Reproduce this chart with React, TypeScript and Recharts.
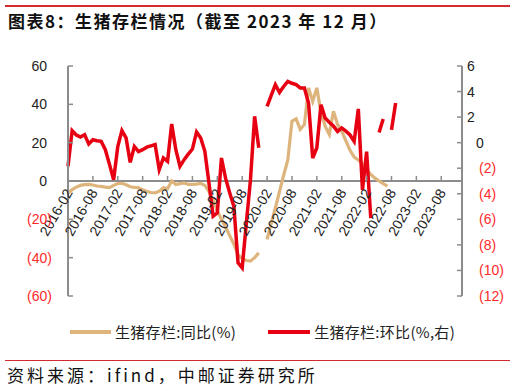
import { LineChart, Line, XAxis, YAxis, ReferenceLine } from "recharts";

// months 2016-02 .. 2024-01
const months: string[] = [];
for (let i = 0; i < 96; i++) {
  const total = 2016 * 12 + 1 + i;
  const y = Math.floor(total / 12);
  const m = (total % 12) + 1;
  months.push(`${y}-${String(m).padStart(2, "0")}`);
}

// 生猪存栏:同比 (%), left axis
const yoy: (number | null)[] = [
  -6.2, -4.5, -3.2, -2.3, -1.9, -1.8, -2.1, -2.6, -2.8, -3.2, -3.5, -2.3,
  -1.3, -1.2, -2.0, -3.0, -3.3, -3.5, -4.6, -5.5, -6.0, -6.2, -5.3, -3.5,
  -4.0, 0, -1.8, -1.4, -1.0, -1.8, -1.8, -1.6, -1.3, -2.3, -5.5, -10,
  -15.5, -20, -24, -28.5, -33, -38.5, -40.5, -41.5, -41.8, -40, -37.5, null,
  -30.5, -22, -14, -5.5, 3, 11, 31.2, 32.4, 26.9, 29.5, 48.6, 41.6,
  48.6, 35.6, 28.6, 24.3, 36.4, 29.5, 26, 21, 16, 12.5, 11, 9,
  6, 3.4, 1.5, 0, -1.4, -2.7, null, null, null, null, null, null,
  null, null, null, null, null, null, null, null, null, null, null, null,
];

// 生猪存栏:环比 (%), right axis
const mom: (number | null)[] = [
  -1.85, 0.94, 0.6, 0.45, 0.63, -0.1, 0.23, 0.15, 0.1, -0.55, -1.7, -2.9,
  -0.3, 0.94, 0.37, -1.54, -0.3, -0.7, -0.55, -0.35, -0.25, -0.15, -2.1, -1.2,
  -1.46, 1.46, -0.55, -1.85, -1.33, -0.9, -0.5, 0.84, 0.37, -0.68, -3.2, -5.76,
  -5.5, -1.2, -2.8, -3.94, -5, -9.4, -9.8, -6.3, -2.9, 2.06, -0.4, null,
  2.84, 3.7, 4.54, 3.94, 4.4, 4.8, 4.65, 4.54, 4.28, 4.28, 3.1, -1.2,
  -0.4, 2.97, 1.93, 1.6, 1.3, 0.88, 1.15, 0.9, 0.6, 0.1, 2.64, -3.7,
  -0.7, -5.9, null, 0.8, 1.85, null, 1.0, 3.1, null, null, null, null,
  null, null, null, null, null, null, null, null, null, null, null, null,
];

const leftTicks = [60, 40, 20, 0, -20, -40, -60];
const rightTicks = [6, 4, 2, 0, -2, -4, -6, -8, -10, -12];

const data = months.map((month, i) => ({ month, yoy: yoy[i], mom: mom[i] }));

const RED = "#E60012";
const TAN = "#DDB47C";
const AXIS = "#8C8C8C";
const NEG = "#FF2A2A";
const TXT = "#222";
const RULE = "#D42A2F";

const PLOT_TOP = 66;
const PLOT_H = 230;
const ZERO_Y = PLOT_TOP + PLOT_H / 2;
const FONT = "'Liberation Sans', Arial, sans-serif";
const CJK = "'Noto Sans CJK SC', sans-serif";

const fmt = (v: number) => (v < 0 ? `(${-v})` : `${v}`);

const LeftTick = ({ x, y, payload }: any) => {
  const v = payload.value as number;
  return (
    <g>
      <line x1={x} x2={x + 5} y1={y} y2={y} stroke={AXIS} strokeWidth={1.5} />
      <text
        x={v < 0 ? x - 16 : x - 21}
        y={y}
        dy="0.36em"
        textAnchor="end"
        fill={v < 0 ? NEG : TXT}
        fontSize={14}
        fontFamily={FONT}
      >
        {fmt(v)}
      </text>
    </g>
  );
};

const RightTick = ({ x, y, payload }: any) => {
  const v = payload.value as number;
  const dx = v < 0 ? 17 : v === 0 ? 14 : 5;
  return (
    <g>
      <line x1={x - 5} x2={x} y1={y} y2={y} stroke={AXIS} strokeWidth={1.5} />
      <text
        x={x + dx}
        y={y}
        dy="0.36em"
        textAnchor="start"
        fill={v < 0 ? NEG : TXT}
        fontSize={14}
        fontFamily={FONT}
      >
        {fmt(v)}
      </text>
    </g>
  );
};

const MonthTick = ({ x, payload }: any) => {
  const ax = x + 1;
  const ay = ZERO_Y + 9;
  return (
    <g>
      <line x1={x} x2={x} y1={ZERO_Y - 5} y2={ZERO_Y} stroke={AXIS} strokeWidth={1.5} />
      <text
        x={ax}
        y={ay}
        dy="0.35em"
        textAnchor="end"
        fill={TXT}
        fontSize={14}
        fontFamily={FONT}
        transform={`rotate(-60 ${ax} ${ay})`}
      >
        {payload.value}
      </text>
    </g>
  );
};

export default function App() {
  return (
    <div
      style={{
        position: "absolute",
        left: 0,
        top: 0,
        width: 515,
        height: 391,
        background: "#fff",
        overflow: "hidden",
      }}
    >
      <div style={{ position: "absolute", left: 5, top: 5, width: 505, height: 2, background: RULE }} />
      <div
        style={{
          position: "absolute",
          left: 8,
          top: 9,
          fontFamily: CJK,
          fontWeight: 700,
          fontSize: 17,
          letterSpacing: 1.5,
          color: "#111",
          whiteSpace: "nowrap",
          lineHeight: "24px",
        }}
      >
        图表8：生猪存栏情况（截至 2023 年 12 月）
      </div>

      <div style={{ position: "absolute", left: 0, top: 0 }}>
        <LineChart
          width={515}
          height={391}
          data={data}
          margin={{ top: PLOT_TOP, right: 0, bottom: 391 - PLOT_TOP - PLOT_H - 30, left: 0 }}
        >
          <XAxis
            dataKey="month"
            interval={5}
            height={30}
            axisLine={false}
            tickLine={false}
            tick={<MonthTick />}
          />
          <YAxis
            yAxisId="left"
            domain={[-60, 60]}
            ticks={leftTicks}
            width={68}
            axisLine={{ stroke: AXIS, strokeWidth: 2 }}
            tickLine={false}
            tickSize={0}
            tickMargin={0}
            tick={<LeftTick />}
            interval={0}
          />
          <YAxis
            yAxisId="right"
            orientation="right"
            domain={[-12, 6]}
            ticks={rightTicks}
            width={53}
            axisLine={{ stroke: AXIS, strokeWidth: 2 }}
            tickLine={false}
            tickSize={0}
            tickMargin={0}
            tick={<RightTick />}
            interval={0}
          />
          <ReferenceLine yAxisId="left" y={0} stroke={AXIS} strokeWidth={2} />
          <Line
            yAxisId="left"
            dataKey="yoy"
            stroke={TAN}
            strokeWidth={3.2}
            dot={false}
            type="linear"
            isAnimationActive={false}
          />
          <Line
            yAxisId="right"
            dataKey="mom"
            stroke={RED}
            strokeWidth={3.5}
            dot={false}
            type="linear"
            isAnimationActive={false}
          />
        </LineChart>
      </div>

      <div
        style={{
          position: "absolute",
          top: 322,
          left: 70,
          display: "flex",
          alignItems: "center",
          fontFamily: CJK,
          fontSize: 15,
          color: "#222",
          whiteSpace: "nowrap",
          lineHeight: "20px",
        }}
      >
        <span style={{ display: "inline-block", width: 41, height: 4, background: TAN, marginRight: 4 }} />
        <span style={{ letterSpacing: 0.3 }}>生猪存栏:同比(%)</span>
        <span style={{ display: "inline-block", width: 42, height: 4, background: RED, marginLeft: 32, marginRight: 4 }} />
        <span style={{ letterSpacing: 0.3 }}>生猪存栏:环比(%,右)</span>
      </div>

      <div style={{ position: "absolute", left: 5, top: 360, width: 505, height: 1, background: RULE }} />
      <div
        style={{
          position: "absolute",
          left: 7,
          top: 364,
          fontFamily: CJK,
          fontSize: 17,
          letterSpacing: 3,
          color: "#111",
          whiteSpace: "nowrap",
          lineHeight: "22px",
        }}
      >
        资料来源：ifind，中邮证券研究所
      </div>
    </div>
  );
}
